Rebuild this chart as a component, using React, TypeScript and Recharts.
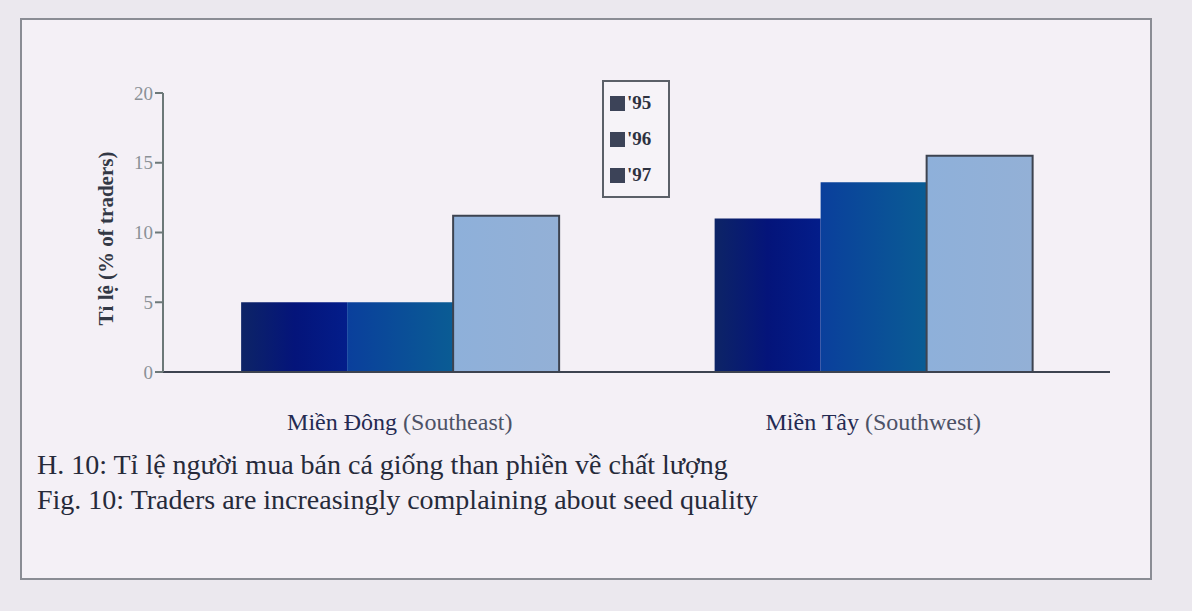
import React from "react";
import { BarChart, Bar, XAxis, YAxis } from "recharts";

const categories = ["Miền Đông (Southeast)", "Miền Tây (Southwest)"];
const series95 = [5, 11];
const series96 = [5, 13.6];
const series97 = [11.2, 15.5];
const yTicks = [0, 5, 10, 15, 20];
const seriesNames = ["'95", "'96", "'97"];

const data = categories.map((c, i) => ({
  category: c,
  y95: series95[i],
  y96: series96[i],
  y97: series97[i],
}));

const FONT = "'Liberation Serif', 'DejaVu Serif', serif";

const XTick = (props: any) => {
  const { x, y, payload } = props;
  const s: string = payload.value;
  const idx = s.indexOf("(");
  const a = s.slice(0, idx);
  const b = s.slice(idx);
  return (
    <text x={x} y={y} textAnchor="middle" fontFamily={FONT} fontSize={24} dy={50}>
      <tspan fill="#242a52">{a}</tspan>
      <tspan fill="#4d5266">{b}</tspan>
    </text>
  );
};

export default function App() {
  return (
    <div
      style={{
        position: "absolute",
        left: 0,
        top: 0,
        width: 1192,
        height: 611,
        background: "#ebe8ee",
        overflow: "hidden",
      }}
    >
      <div
        style={{
          position: "absolute",
          left: 20,
          top: 18,
          width: 1128,
          height: 558,
          border: "2px solid #8a8c94",
          background: "#f4f0f6",
        }}
      />
      <div style={{ position: "absolute", left: 0, top: 0 }}>
        <BarChart
          width={1192}
          height={611}
          data={data}
          margin={{ top: 93, right: 82, bottom: 0, left: 93 }}
          barGap={0}
          barCategoryGap="16.5%"
        >
          <defs>
            <linearGradient id="g95" x1="0" y1="0" x2="1" y2="0">
              <stop offset="0%" stopColor="#0d2466" />
              <stop offset="50%" stopColor="#04147a" />
              <stop offset="100%" stopColor="#031d8a" />
            </linearGradient>
            <linearGradient id="g96" x1="0" y1="0" x2="1" y2="0">
              <stop offset="0%" stopColor="#0a3f9c" />
              <stop offset="100%" stopColor="#0a5c94" />
            </linearGradient>
            <linearGradient id="g97" x1="0" y1="0" x2="1" y2="0">
              <stop offset="0%" stopColor="#8eb0da" />
              <stop offset="100%" stopColor="#93b0d6" />
            </linearGradient>
          </defs>
          <XAxis
            dataKey="category"
            axisLine={{ stroke: "#3d4350", strokeWidth: 2 }}
            tickLine={false}
            tick={<XTick />}
            height={239}
            interval={0}
          />
          <YAxis
            domain={[0, 20]}
            ticks={yTicks}
            width={70}
            axisLine={{ stroke: "#6c7878", strokeWidth: 2 }}
            tickLine={{ stroke: "#6c7878", strokeWidth: 2 }}
            tickSize={8}
            tick={{ fill: "#8a9096", fontFamily: FONT, fontSize: 19 }}
            label={{
              value: "Tỉ lệ (% of traders)",
              angle: -90,
              position: "insideLeft",
              offset: 13,
              dy: 6,
              style: {
                textAnchor: "middle",
                fontFamily: FONT,
                fontWeight: 700,
                fontSize: 21,
                fill: "#333845",
              },
            }}
          />
          <Bar dataKey="y95" name={seriesNames[0]} fill="url(#g95)" isAnimationActive={false} />
          <Bar dataKey="y96" name={seriesNames[1]} fill="url(#g96)" isAnimationActive={false} />
          <Bar
            dataKey="y97"
            name={seriesNames[2]}
            fill="url(#g97)"
            stroke="#3d4350"
            strokeWidth={2}
            isAnimationActive={false}
          />
        </BarChart>
      </div>
      <div
        style={{
          position: "absolute",
          left: 602,
          top: 80,
          width: 54,
          border: "2px solid #5b6068",
          background: "#f6f3f8",
          padding: "3px 4px 3px 6px",
          fontFamily: FONT,
          fontWeight: 700,
          fontSize: 19,
          color: "#2d3140",
        }}
      >
        {seriesNames.map((n, i) => (
          <div key={i} style={{ display: "flex", alignItems: "center", height: 36 }}>
            <span
              style={{
                display: "inline-block",
                width: 15,
                height: 15,
                background: "#3c4358",
                marginRight: 2,
              }}
            />
            <span>{n}</span>
          </div>
        ))}
      </div>
      <div
        style={{
          position: "absolute",
          left: 37,
          top: 447,
          fontFamily: FONT,
          fontSize: 28,
          color: "#262a3a",
          lineHeight: "35px",
          whiteSpace: "nowrap",
        }}
      >
        <div>H. 10: Tỉ lệ người mua bán cá giống than phiền về chất lượng</div>
        <div>Fig. 10: Traders are increasingly complaining about seed quality</div>
      </div>
    </div>
  );
}
